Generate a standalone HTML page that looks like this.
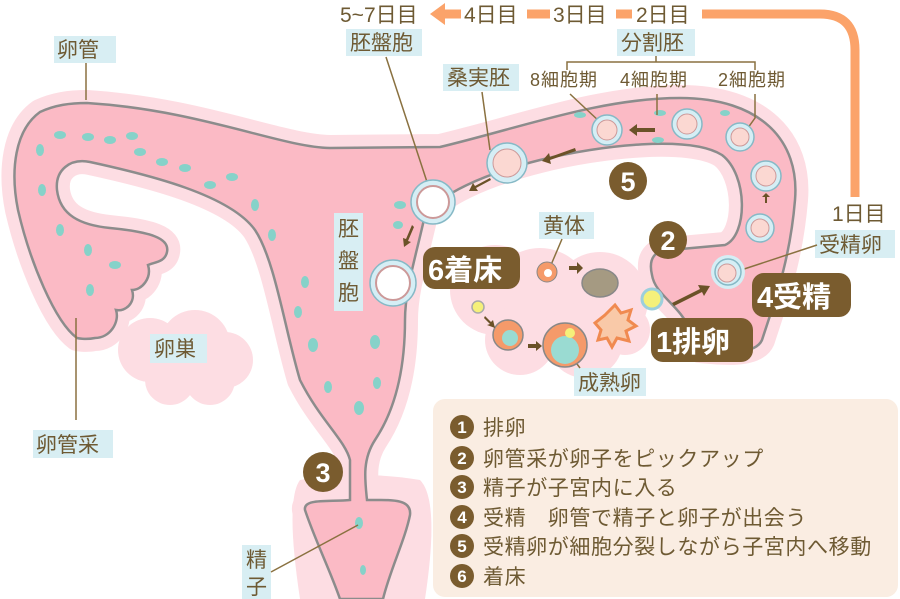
<!DOCTYPE html>
<html><head><meta charset="utf-8"><style>
html,body{margin:0;padding:0;background:#fff;}
svg{display:block;}
text{font-family:"Liberation Sans","Noto Sans CJK JP",sans-serif;}
.lb{fill:#6e5a33;font-size:21px;}
.lg{fill:#6e5a33;font-size:21px;letter-spacing:0.6px;}
.lbs{fill:#6e5a33;font-size:18px;letter-spacing:1px;}
.box{fill:#d8eef3;}
.ln{stroke:#8a7140;stroke-width:1.5;fill:none;}
.cell{fill:#d5eef5;stroke:#86b9c6;stroke-width:1.5;}
.sp{fill:#86d2c9;}
.arr{fill:#6b5228;}
</style></head><body>
<svg width="900" height="599" viewBox="0 0 900 599" xmlns="http://www.w3.org/2000/svg">
<g fill="#fddde3">
<circle cx="150" cy="350" r="32"/><circle cx="195" cy="345" r="35"/><circle cx="225" cy="360" r="28"/><circle cx="170" cy="380" r="25"/><circle cx="210" cy="380" r="25"/>
<circle cx="495" cy="290" r="45"/><circle cx="540" cy="300" r="52"/><circle cx="600" cy="300" r="48"/><circle cx="520" cy="340" r="35"/><circle cx="585" cy="340" r="38"/><circle cx="625" cy="330" r="25"/>
<path d="M300,480 Q360,470 420,480 Q440,500 425,599 L300,599 Q285,500 300,480Z"/>
</g>
<path d="M87,103 C200,110 280,147 330,148 L440,147 C520,128 600,98 680,98 C760,98 800,140 795,200 C790,260 775,300 762,340 C755,356 720,352 700,350 L690,330 C680,305 655,295 652,275 C648,258 655,250 670,250 L725,245 C748,235 748,175 722,155 C690,135 600,145 540,160 C480,175 440,195 425,215 C415,260 405,290 405,320 C405,370 395,410 375,440 C362,460 365,480 367,500 C390,500 412,498 410,515 C405,540 390,570 383,599 L340,599 C330,570 315,540 305,510 C303,498 330,502 350,500 L350,460 C345,440 320,420 300,380 C285,330 275,260 255,230 C230,195 150,175 90,162 C70,158 55,170 57,190 C60,215 80,225 110,228 C150,232 170,238 167,252 C165,262 155,262 148,265 C152,278 142,290 132,290 C136,302 126,312 116,310 C120,322 110,338 95,338 C85,340 77,338 77,338 C55,322 30,262 18,210 C10,170 15,130 40,112 C55,105 70,103 87,103 Z" fill="#fddde3" stroke="#fddde3" stroke-width="26" stroke-linejoin="round"/>
<path d="M87,103 C200,110 280,147 330,148 L440,147 C520,128 600,98 680,98 C760,98 800,140 795,200 C790,260 775,300 762,340 C755,356 720,352 700,350 L690,330 C680,305 655,295 652,275 C648,258 655,250 670,250 L725,245 C748,235 748,175 722,155 C690,135 600,145 540,160 C480,175 440,195 425,215 C415,260 405,290 405,320 C405,370 395,410 375,440 C362,460 365,480 367,500 C390,500 412,498 410,515 C405,540 390,570 383,599 L340,599 C330,570 315,540 305,510 C303,498 330,502 350,500 L350,460 C345,440 320,420 300,380 C285,330 275,260 255,230 C230,195 150,175 90,162 C70,158 55,170 57,190 C60,215 80,225 110,228 C150,232 170,238 167,252 C165,262 155,262 148,265 C152,278 142,290 132,290 C136,302 126,312 116,310 C120,322 110,338 95,338 C85,340 77,338 77,338 C55,322 30,262 18,210 C10,170 15,130 40,112 C55,105 70,103 87,103 Z" fill="#fbbac5" stroke="#8c8c8c" stroke-width="2.5"/>
<g class="sp">
<ellipse cx="60" cy="135" rx="6" ry="4"/><ellipse cx="88" cy="137" rx="6" ry="4"/><ellipse cx="110" cy="140" rx="6" ry="4"/><ellipse cx="132" cy="136" rx="6" ry="4"/><ellipse cx="140" cy="152" rx="6" ry="4"/><ellipse cx="162" cy="162" rx="6" ry="4"/><ellipse cx="185" cy="168" rx="6" ry="4"/><ellipse cx="210" cy="185" rx="6" ry="4"/><ellipse cx="232" cy="177" rx="6" ry="4"/><ellipse cx="255" cy="205" rx="4" ry="6"/><ellipse cx="272" cy="235" rx="4" ry="6"/><ellipse cx="40" cy="150" rx="4" ry="6"/><ellipse cx="42" cy="190" rx="4" ry="6"/><ellipse cx="60" cy="230" rx="4" ry="6"/><ellipse cx="88" cy="250" rx="4" ry="6"/><ellipse cx="90" cy="290" rx="4" ry="6"/><ellipse cx="115" cy="265" rx="6" ry="4"/><ellipse cx="305" cy="282" rx="4" ry="6"/><ellipse cx="298" cy="312" rx="4" ry="6"/><ellipse cx="313" cy="345" rx="5" ry="7"/><ellipse cx="375" cy="342" rx="5" ry="7"/><ellipse cx="328" cy="387" rx="4" ry="6"/><ellipse cx="377" cy="383" rx="4" ry="6"/><ellipse cx="359" cy="408" rx="5" ry="7"/><ellipse cx="359" cy="523" rx="4" ry="6"/><ellipse cx="363" cy="570" rx="3" ry="5"/><ellipse cx="400" cy="205" rx="6" ry="4"/><ellipse cx="398" cy="225" rx="5" ry="4"/><ellipse cx="580" cy="115" rx="6" ry="3"/><ellipse cx="660" cy="113" rx="6" ry="3"/><ellipse cx="658" cy="140" rx="6" ry="3"/><ellipse cx="725" cy="113" rx="5" ry="3"/>
</g>
<path d="M440,14 L820,14 Q855,14 855,50 L855,200" fill="none" stroke="#fba36a" stroke-width="9"/>
<polygon points="430,14 445,3 445,25" fill="#fba36a"/>
<rect x="836" y="197" width="40" height="26" fill="#fff"/>
<rect x="461" y="2" width="66" height="24" fill="#fff"/><rect x="550" y="2" width="66" height="24" fill="#fff"/><rect x="632" y="2" width="70" height="24" fill="#fff"/>
<text class="lb" x="340" y="22">5~7日目</text>
<text class="lb" x="464" y="22">4日目</text>
<text class="lb" x="553" y="22">3日目</text>
<text class="lb" x="636" y="22">2日目</text>
<text class="lb" x="832" y="221">1日目</text>
<rect class="box" x="54" y="36" width="62" height="27"/><text class="lb" x="57" y="57">卵管</text>
<line class="ln" x1="86" y1="63" x2="86" y2="100"/>
<rect class="box" x="346" y="29" width="76" height="27"/><text class="lb" x="350" y="50">胚盤胞</text>
<line class="ln" x1="386" y1="57" x2="428" y2="185"/>
<rect class="box" x="617" y="29" width="78" height="27"/><text class="lb" x="621" y="50">分割胚</text>
<path class="ln" d="M567,70 V62 H755 V70 M656,56 V62"/>
<rect class="box" x="443" y="64" width="76" height="27"/><text class="lb" x="447" y="85">桑実胚</text>
<line class="ln" x1="482" y1="92" x2="490" y2="150"/>
<text class="lbs" x="530" y="86">8細胞期</text>
<text class="lbs" x="620" y="86">4細胞期</text>
<text class="lbs" x="718" y="86">2細胞期</text>
<line class="ln" x1="570" y1="94" x2="600" y2="122"/>
<line class="ln" x1="657" y1="94" x2="657" y2="115"/>
<path class="ln" d="M755,94 V118 L745,132"/>
<rect class="box" x="815" y="230" width="80" height="28"/><text class="lb" x="819" y="252">受精卵</text>
<line class="ln" x1="817" y1="245" x2="735" y2="272"/>
<rect class="box" x="539" y="212" width="55" height="27"/><text class="lb" x="543" y="233">黄体</text>
<line class="ln" x1="562" y1="239" x2="548" y2="272"/>
<rect class="box" x="574" y="368" width="72" height="28"/><text class="lb" x="578" y="390">成熟卵</text>
<line class="ln" x1="565" y1="348" x2="580" y2="368"/>
<rect class="box" x="150" y="334" width="57" height="29"/><text class="lb" x="154" y="356">卵巣</text>
<rect class="box" x="334" y="213" width="29" height="98"/>
<text class="lb" x="338" y="236">胚</text><text class="lb" x="338" y="268">盤</text><text class="lb" x="338" y="300">胞</text>
<line class="ln" x1="76" y1="318" x2="76" y2="420"/>
<rect class="box" x="33" y="430" width="80" height="28"/><text class="lb" x="36" y="452">卵管采</text>
<rect class="box" x="242" y="545" width="29" height="54"/>
<text class="lb" x="246" y="567">精</text><text class="lb" x="246" y="594">子</text>
<line class="ln" x1="271" y1="572" x2="358" y2="525"/>
<g>
<circle class="cell" cx="740" cy="137" r="14"/><circle cx="740" cy="137" r="9" fill="#fbd8d2" stroke="#c99" stroke-width="1"/>
<circle class="cell" cx="687" cy="124" r="15"/><circle cx="687" cy="124" r="10" fill="#fbd8d2" stroke="#c99" stroke-width="1"/>
<circle class="cell" cx="607" cy="130" r="15"/><circle cx="607" cy="130" r="10" fill="#fbd8d2" stroke="#c99" stroke-width="1"/>
<circle class="cell" cx="507" cy="163" r="20"/><circle cx="507" cy="163" r="14" fill="#fbd8d2" stroke="#c99" stroke-width="1"/>
<circle class="cell" cx="433" cy="202" r="22"/><circle cx="433" cy="202" r="16" fill="#fff" stroke="#c99" stroke-width="2"/>
<circle class="cell" cx="393" cy="283" r="23"/><circle cx="393" cy="283" r="17" fill="#fff" stroke="#c99" stroke-width="2"/>
<circle class="cell" cx="766" cy="176" r="15"/><circle cx="766" cy="176" r="10" fill="#fbd8d2" stroke="#c99" stroke-width="1"/>
<circle class="cell" cx="760" cy="228" r="14"/><circle cx="760" cy="228" r="9" fill="#fbd8d2" stroke="#c99" stroke-width="1"/>
<circle cx="728" cy="272" r="17" fill="#d5eef5"/><circle class="cell" cx="728" cy="272" r="13"/><circle cx="727" cy="273" r="9" fill="#fbd8d2" stroke="#c99" stroke-width="1"/>
</g>
<circle cx="652" cy="299" r="10" fill="#f5f07a" stroke="#9ccfdc" stroke-width="3"/>
<circle cx="478" cy="307" r="6" fill="#f5f07a" stroke="#aaa" stroke-width="1.5"/>
<circle cx="508" cy="335" r="15" fill="#f59a6a" stroke="#888" stroke-width="1.5"/><circle cx="510" cy="338" r="8" fill="#9adbd2"/>
<circle cx="565" cy="345" r="22" fill="#f59a6a" stroke="#888" stroke-width="1.5"/><circle cx="565" cy="350" r="14" fill="#9adbd2"/><circle cx="570" cy="333" r="5" fill="#f5f07a"/>
<path d="M605,315 l10,-10 l6,8 l10,-3 l-3,10 l8,6 l-10,5 l3,10 l-12,-3 l-5,9 l-5,-9 l-9,2 l3,-10 l-6,-7 z" fill="#f9c9a8" stroke="#f08a50" stroke-width="3"/>
<circle cx="547" cy="272" r="10" fill="#f59a6a" stroke="#888" stroke-width="1"/><circle cx="548" cy="273" r="4" fill="#fff"/>
<ellipse cx="600" cy="283" rx="18" ry="14" fill="#a59a82" stroke="#888" stroke-width="1.5"/>
<g class="arr">
<path d="M655,128 l-18,0 l0,-4 l-8,6 l8,6 l0,-4 l18,0z"/>
<path d="M575,148 l-25,9 l-1,-4 l-7,8 l9,3 l-1,-4 l26,-9z"/>
<path d="M490,178 l-15,8 l-2,-3 l-4,8 l9,0 l-2,-3 l15,-8z"/>
<path d="M412,225 l-6,14 l-3,-1 l1,9 l7,-5 l-3,-1 l6,-14z"/>
<path d="M672,303 l28,-14 l-2,-4 l12,1 l-6,10 l-2,-4 l-28,14z"/>
<path d="M770,197 l-4,-4 l-4,4 l3,0 l0,6 l2,0 l0,-6z"/>
<path d="M583,268 l-6,-6 l0,4 l-8,0 l0,4 l8,0 l0,4z"/>
<path d="M484,318 l6,6 l-3,1 l8,3 l-2,-8 l-2,2 l-6,-6z"/>
<path d="M528,344 l8,0 l0,-3 l6,5 l-6,5 l0,-3 l-8,0z"/>
</g>
<g font-weight="bold">
<rect x="423" y="247" width="97" height="42" rx="12" fill="#7a5c2e"/><text x="428" y="280" fill="#fff" font-size="29">6着床</text>
<rect x="752" y="273" width="99" height="44" rx="12" fill="#7a5c2e"/><text x="757" y="307" fill="#fff" font-size="29">4受精</text>
<rect x="651" y="318" width="102" height="44" rx="12" fill="#7a5c2e"/><text x="656" y="352" fill="#fff" font-size="29">1排卵</text>
<circle cx="668" cy="240" r="19" fill="#7a5c2e"/><text x="668" y="250" fill="#fff" font-size="27" text-anchor="middle">2</text>
<circle cx="628" cy="181" r="19" fill="#7a5c2e"/><text x="628" y="191" fill="#fff" font-size="27" text-anchor="middle">5</text>
<circle cx="323" cy="472" r="20" fill="#7a5c2e"/><text x="323" y="482" fill="#fff" font-size="27" text-anchor="middle">3</text>
</g>
<rect x="433" y="399" width="465" height="198" rx="12" fill="#faede2"/>
<g font-weight="bold" font-size="17" fill="#fff" text-anchor="middle">
<circle cx="462" cy="427" r="12" fill="#7a5c2e"/><text x="462" y="433">1</text>
<circle cx="462" cy="458" r="12" fill="#7a5c2e"/><text x="462" y="464">2</text>
<circle cx="462" cy="487" r="12" fill="#7a5c2e"/><text x="462" y="493">3</text>
<circle cx="462" cy="517" r="12" fill="#7a5c2e"/><text x="462" y="523">4</text>
<circle cx="462" cy="546" r="12" fill="#7a5c2e"/><text x="462" y="552">5</text>
<circle cx="462" cy="576" r="12" fill="#7a5c2e"/><text x="462" y="582">6</text>
</g>
<g class="lg">
<text x="483" y="435">排卵</text>
<text x="483" y="466">卵管采が卵子をピックアップ</text>
<text x="483" y="495">精子が子宮内に入る</text>
<text x="483" y="525">受精　卵管で精子と卵子が出会う</text>
<text x="483" y="554">受精卵が細胞分裂しながら子宮内へ移動</text>
<text x="483" y="584">着床</text>
</g>
</svg>
</body></html>
